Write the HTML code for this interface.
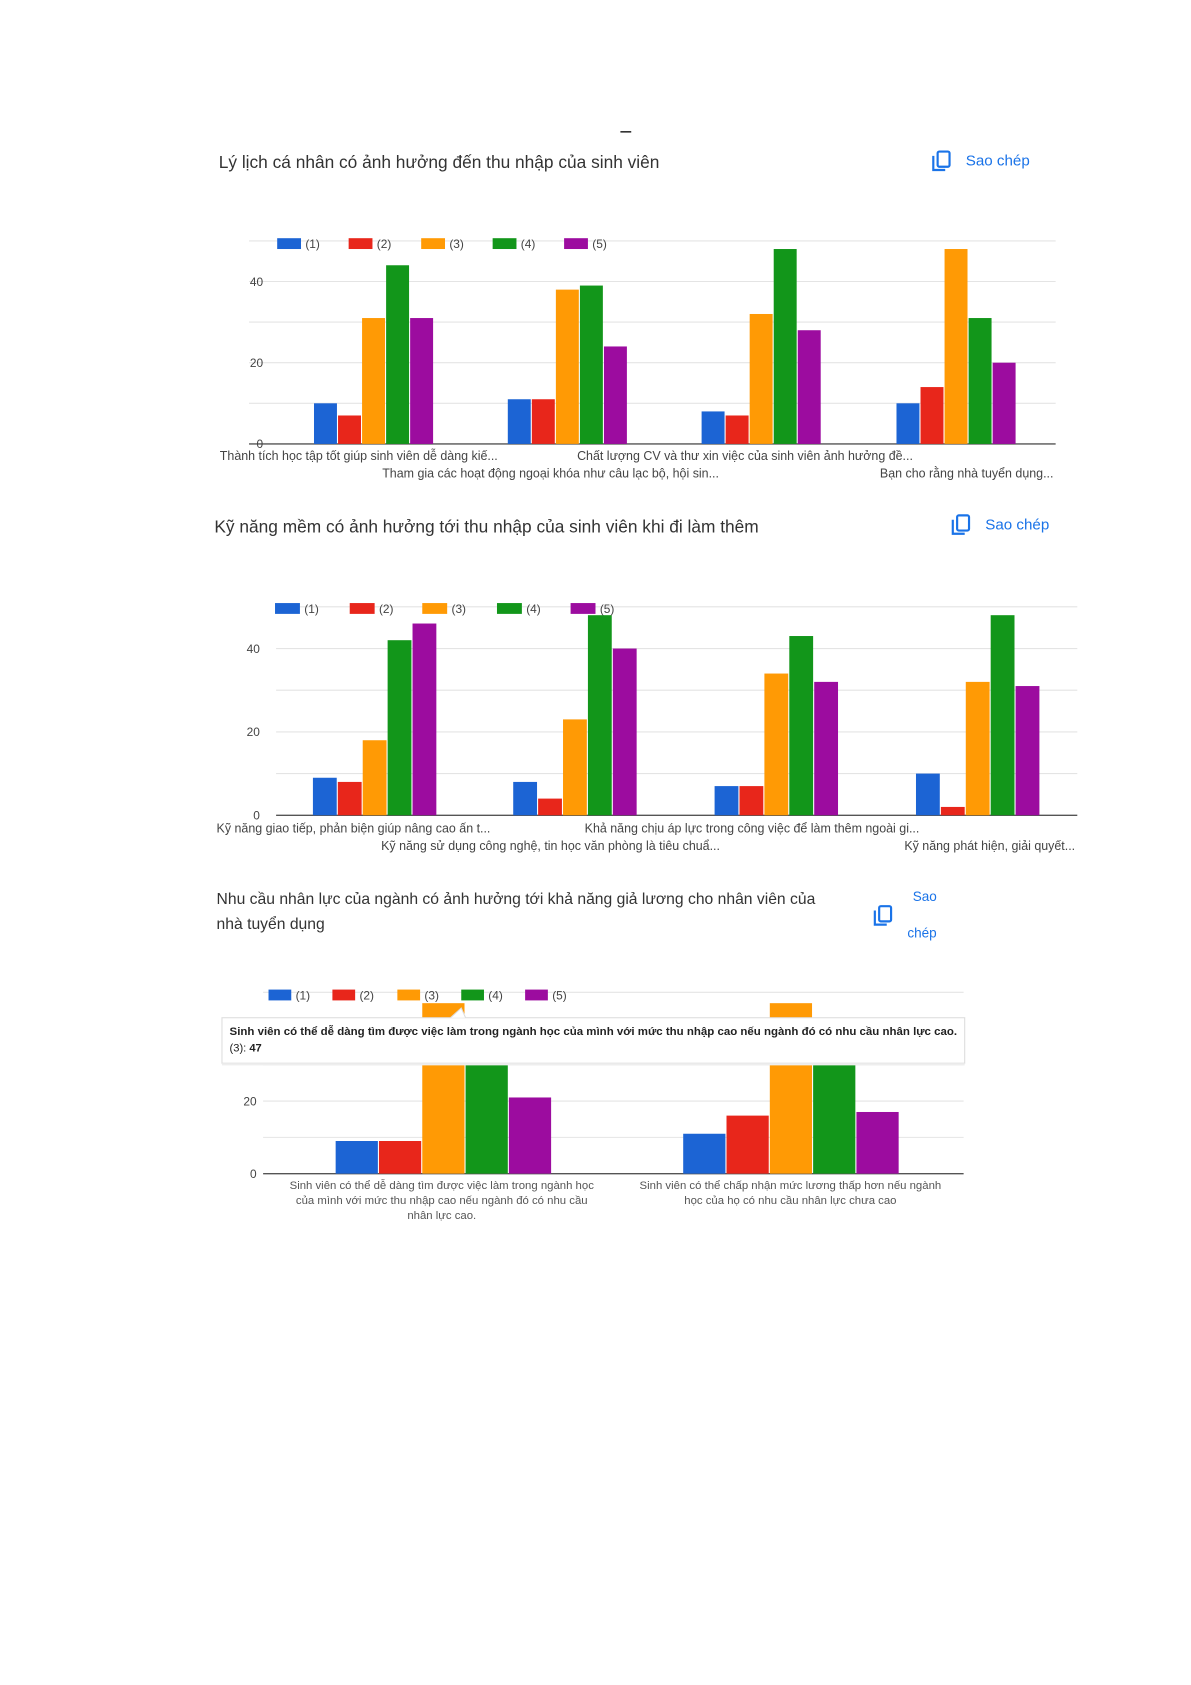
<!DOCTYPE html>
<html><head><meta charset="utf-8"><style>
html,body{margin:0;padding:0;background:#fff;}
svg{display:block;}
text{font-family:"Liberation Sans",sans-serif;}
</style></head><body>
<svg id="s" width="1191" height="1685" viewBox="0 0 1100 1556.3" xmlns="http://www.w3.org/2000/svg">
<rect width="1100" height="1557" fill="#fff"/>
<rect x="573" y="121" width="10" height="1.5" fill="#333"/>
<line x1="0" y1="1559" x2="1100" y2="1559" stroke="#999" stroke-width="0.6"/>
<g id="g"></g>
</svg>
<script>
var C=["#1c64d4","#e8261b","#ff9a05","#12961a","#9c0c9f"];
var g=document.getElementById('g'),h='';
function t(x,y,s,sz,col,extra){h+='<text x="'+x+'" y="'+y+'" font-size="'+sz+'" fill="'+col+'" '+(extra||'')+'>'+s+'</text>';}
function icon(x,y){h+='<rect x="'+(x+4)+'" y="'+y+'" width="11" height="14" rx="1.5" fill="none" stroke="#1a73e8" stroke-width="2"/><path d="M'+x+' '+(y+4)+' v13 h11" fill="none" stroke="#1a73e8" stroke-width="2"/>';}
function legend(xs,y,w){for(var i=0;i<5;i++){h+='<rect x="'+xs[i]+'" y="'+(y-5)+'" width="'+w+'" height="10" fill="'+C[i]+'"/>';t(xs[i]+w+4,y+4,'('+(i+1)+')',11,'#444');}}
function chart(o){
 for(var v=0;v<=o.max;v+=10){var y=o.y0-v*o.k;h+='<line x1="'+o.ax0+'" x2="'+o.ax1+'" y1="'+y+'" y2="'+y+'" stroke="'+(v?'#e4e4e4':'#555')+'" stroke-width="'+(v?1:1.3)+'"/>';}
 [0,20,40].forEach(function(v){if(v<=o.max-5||v==0)t(o.lx,o.y0-v*o.k+4,v,11,'#444','text-anchor="end"');});
 o.data.forEach(function(d,gi){for(var i=0;i<5;i++){var x=o.gx[gi]+i*o.bw,hh=d[i]*o.k;h+='<rect x="'+x+'" y="'+(o.y0-hh)+'" width="'+(o.bw-1)+'" height="'+hh+'" fill="'+C[i]+'"/>';}});
}
// chart1
t(202,155,'Lý lịch cá nhân có ảnh hưởng đến thu nhập của sinh viên',16,'#333');
icon(862,140);t(892,153,'Sao chép',14,'#1a73e8');
chart({y0:410,k:3.75,max:50,ax0:230,ax1:975,lx:243,bw:22.2,gx:[290,469,648,828],data:[[10,7,31,44,31],[11,11,38,39,24],[8,7,32,48,28],[10,14,48,31,20]]});
legend([256,322,389,455,521],225,22);
t(203,425,'Thành tích học tập tốt giúp sinh viên dễ dàng kiế...',11.5,'#444');
t(533,425,'Chất lượng CV và thư xin việc của sinh viên ảnh hưởng đề...',11.5,'#444');
t(353,441,'Tham gia các hoạt động ngoại khóa như câu lạc bộ, hội sin...',11.5,'#444');
t(973,441,'Bạn cho rằng nhà tuyển dụng...',11.5,'#444','text-anchor="end"');
// chart2
t(198,492,'Kỹ năng mềm có ảnh hưởng tới thu nhập của sinh viên khi đi làm thêm',16,'#333');
icon(880,476);t(910,489,'Sao chép',14,'#1a73e8');
chart({y0:753,k:3.85,max:50,ax0:255,ax1:995,lx:240,bw:23,gx:[289,474,660,846],data:[[9,8,18,42,46],[8,4,23,48,40],[7,7,34,43,32],[10,2,32,48,31]]});
legend([254,323,390,459,527],562,23);
t(200,769,'Kỹ năng giao tiếp, phản biện giúp nâng cao ấn t...',11.5,'#444');
t(540,769,'Khả năng chịu áp lực trong công việc để làm thêm ngoài gi...',11.5,'#444');
t(352,785,'Kỹ năng sử dụng công nghệ, tin học văn phòng là tiêu chuẩ...',11.5,'#444');
t(993,785,'Kỹ năng phát hiện, giải quyết...',11.5,'#444','text-anchor="end"');
// chart3
t(200,835,'Nhu cầu nhân lực của ngành có ảnh hưởng tới khả năng giả lương cho nhân viên của',14.5,'#333');
t(200,858,'nhà tuyển dụng',14.5,'#333');
icon(808,837);t(843,832,'Sao',12.5,'#1a73e8');t(838,866,'chép',12.5,'#1a73e8');
chart({y0:1084,k:3.35,max:50,ax0:243,ax1:890,lx:237,bw:40,gx:[310,631],data:[[9,9,47,42,21],[11,16,47,42,17]]});
legend([248,307,367,426,485],919,21);
h+='<clipPath id="cp"><rect x="205" y="940" width="686" height="42"/></clipPath>';
h+='<rect x="205" y="940" width="686" height="42" fill="#fff" stroke="#ddd" stroke-width="1"/>';
h+='<rect x="205" y="982" width="686" height="2" fill="#eee"/>';
h+='<path d="M416 940 L426 931 L430 940" fill="#fff" stroke="#ddd"/>';
t(212,956,'Sinh viên có thể dễ dàng tìm được việc làm trong ngành học của mình với mức thu nhập cao nếu ngành đó có nhu cầu nhân lực cao.',10.6,'#222','font-weight="bold" clip-path="url(#cp)"');
t(212,971,'(3): <tspan font-weight="bold">47</tspan>',10.3,'#222');
[['Sinh viên có thể dễ dàng tìm được việc làm trong ngành học',408,1098],['của mình với mức thu nhập cao nếu ngành đó có nhu cầu',408,1112],['nhân lực cao.',408,1126],['Sinh viên có thể chấp nhận mức lương thấp hơn nếu ngành',730,1098],['học của họ có nhu cầu nhân lực chưa cao',730,1112]].forEach(function(a){t(a[1],a[2],a[0],10.5,'#555','text-anchor="middle"');});
g.innerHTML=h;
</script>
</body></html>
